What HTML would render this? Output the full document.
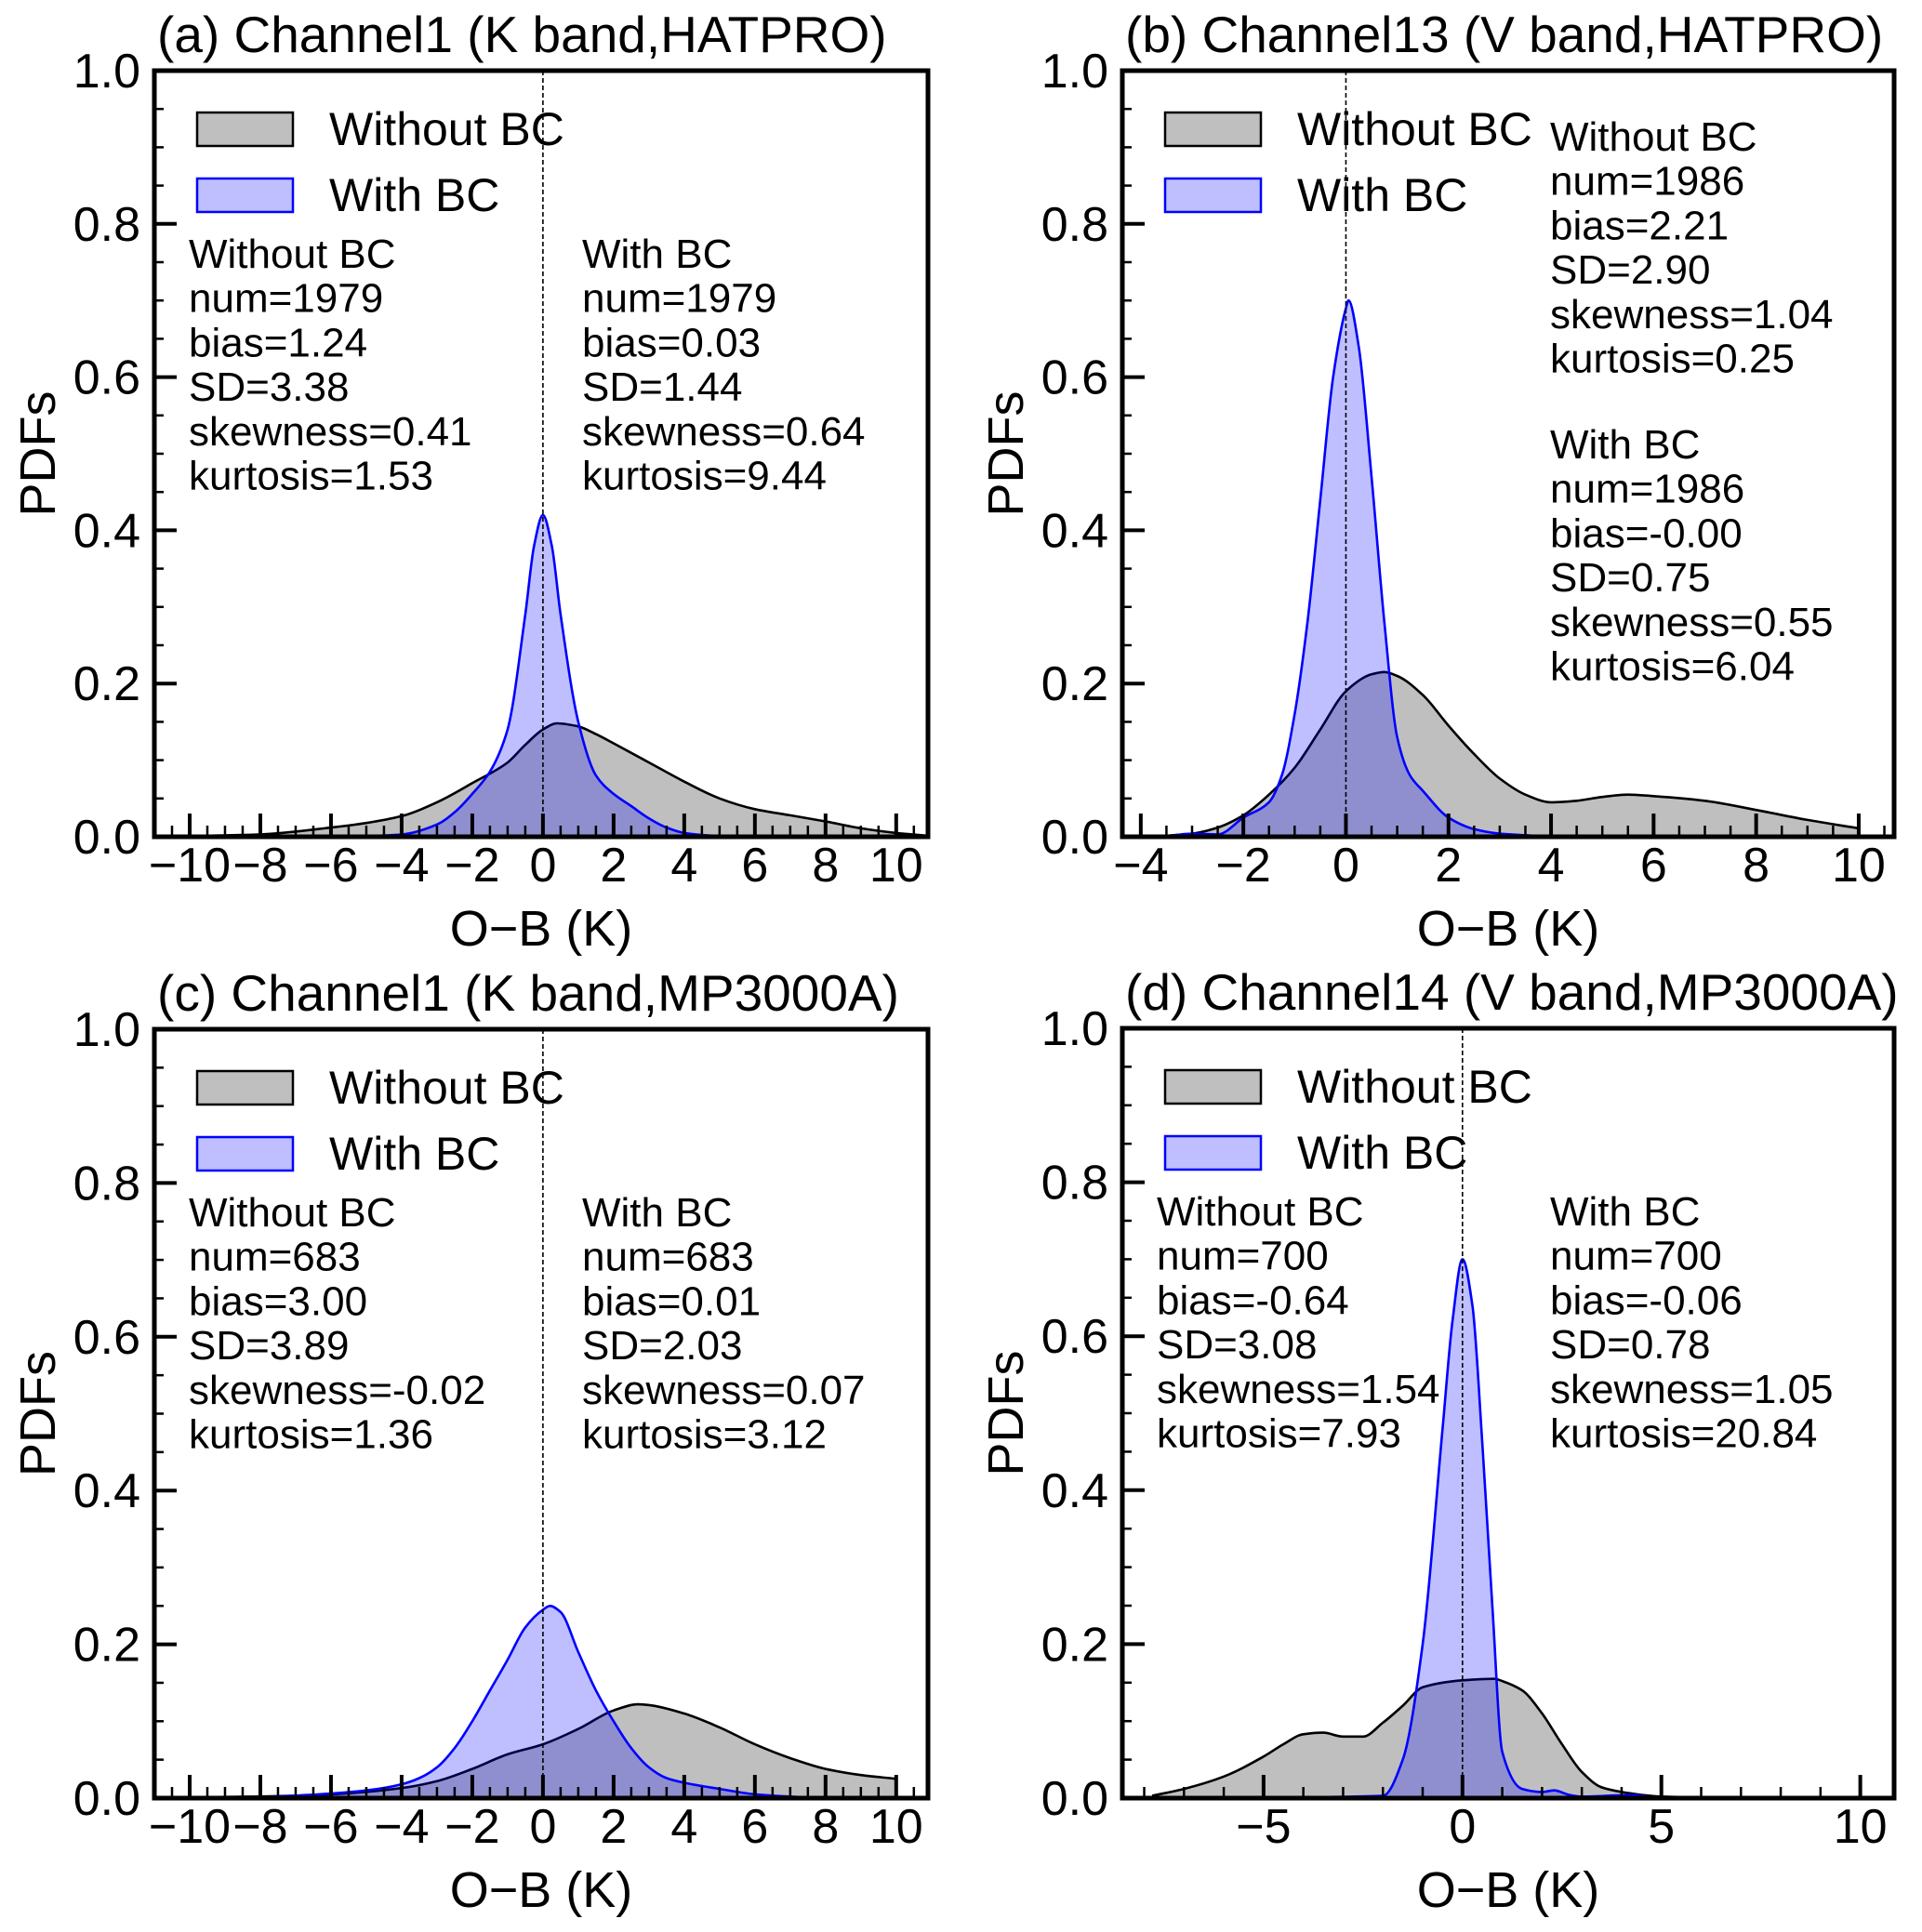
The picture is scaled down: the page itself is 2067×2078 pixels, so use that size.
<!DOCTYPE html>
<html><head><meta charset="utf-8">
<style>
html,body{margin:0;padding:0;background:#fff;}
svg{display:block;font-family:"Liberation Sans",Arial,sans-serif;}
</style></head>
<body>
<svg id="fig" width="2067" height="2078" viewBox="0 0 2067 2078" xmlns="http://www.w3.org/2000/svg"></svg>
<script>
// ---- Panel (a) data ----
const aTitle = "(a) Channel1 (K band,HATPRO)";
const aGrayX = [-11,-10,-8,-6,-5,-4,-3,-2,-1,-0.5,0,0.4,1,1.5,2,3,4,5,6,7,8,9,10,11];
const aGrayY = [0,0.001,0.003,0.012,0.018,0.027,0.045,0.07,0.097,0.12,0.14,0.148,0.144,0.134,0.122,0.097,0.072,0.05,0.036,0.028,0.02,0.011,0.005,0.001];
const aBlueX = [-6,-5,-4,-3,-2.5,-2,-1.5,-1,-0.5,-0.25,0,0.25,0.5,1,1.5,2,2.5,3,3.5,4,5,6];
const aBlueY = [0,0.001,0.003,0.016,0.032,0.056,0.085,0.14,0.29,0.38,0.42,0.38,0.29,0.15,0.08,0.056,0.04,0.024,0.012,0.005,0.001,0];
const aStatsL = ["Without BC","num=1979","bias=1.24","SD=3.38","skewness=0.41","kurtosis=1.53"];
const aStatsR = ["With BC","num=1979","bias=0.03","SD=1.44","skewness=0.64","kurtosis=9.44"];
const aXTicks = [-10,-8,-6,-4,-2,0,2,4,6,8,10];
const aXTickLabels = ["−10","−8","−6","−4","−2","0","2","4","6","8","10"];

// ---- Panel (b) data ----
const bTitle = "(b) Channel13 (V band,HATPRO)";
const bGrayX = [-3.6,-3,-2.5,-2,-1.5,-1,-0.5,0,0.5,0.75,1,1.5,2,2.5,3,3.5,4,4.5,5,5.5,6,7,8,9,10];
const bGrayY = [0.001,0.004,0.012,0.028,0.055,0.09,0.14,0.19,0.212,0.215,0.21,0.185,0.145,0.108,0.076,0.055,0.045,0.047,0.052,0.055,0.053,0.047,0.035,0.022,0.011];
const bBlueX = [-3.5,-3,-2.5,-2,-1.5,-1.25,-1,-0.75,-0.5,-0.25,0,0.05,0.25,0.5,0.75,1,1.25,1.5,2,2.5,3,3.5,4];
const bBlueY = [0.001,0.004,0.003,0.025,0.045,0.08,0.16,0.28,0.44,0.6,0.69,0.7,0.64,0.47,0.28,0.13,0.08,0.06,0.025,0.01,0.004,0.002,0];
const bStatsL = ["Without BC","num=1986","bias=2.21","SD=2.90","skewness=1.04","kurtosis=0.25"];
const bStatsR = ["With BC","num=1986","bias=-0.00","SD=0.75","skewness=0.55","kurtosis=6.04"];
const bXTicks = [-4,-2,0,2,4,6,8,10];
const bXTickLabels = ["−4","−2","0","2","4","6","8","10"];

// ---- Panel (c) data ----
const cTitle = "(c) Channel1 (K band,MP3000A)";
const cGrayX = [-10,-8,-6,-4,-3,-2,-1,0,1,2,2.7,3,4,5,6,7,8,9,10];
const cGrayY = [0.001,0.002,0.005,0.013,0.022,0.038,0.057,0.07,0.09,0.114,0.122,0.121,0.11,0.092,0.07,0.052,0.038,0.03,0.025];
const cBlueX = [-8,-6,-5,-4,-3.5,-3,-2.5,-2,-1.5,-1,-0.5,0,0.2,0.5,1,1.5,2,2.5,3,3.5,4,5,6,7,8];
const cBlueY = [0.001,0.006,0.01,0.018,0.026,0.04,0.065,0.1,0.14,0.18,0.222,0.245,0.25,0.242,0.19,0.14,0.1,0.065,0.04,0.026,0.02,0.012,0.005,0.002,0];
const cStatsL = ["Without BC","num=683","bias=3.00","SD=3.89","skewness=-0.02","kurtosis=1.36"];
const cStatsR = ["With BC","num=683","bias=0.01","SD=2.03","skewness=0.07","kurtosis=3.12"];
const cXTicks = aXTicks;
const cXTickLabels = aXTickLabels;

// ---- Panel (d) data ----
const dTitle = "(d) Channel14 (V band,MP3000A)";
const dGrayX = [-7.8,-7,-6,-5,-4.5,-4,-3.5,-3,-2.5,-2,-1.5,-1,0,0.8,1,1.5,2,2.5,3,3.5,4,5,6,8,10];
const dGrayY = [0.003,0.012,0.028,0.054,0.07,0.083,0.085,0.08,0.08,0.098,0.12,0.144,0.153,0.155,0.152,0.14,0.11,0.07,0.034,0.014,0.008,0.002,0.001,0,0];
const dBlueX = [-7,-2,-1.5,-1,-0.5,-0.25,0,0.25,0.5,0.75,1,1.5,2,2.3,2.7,3,4.2,5,6];
const dBlueY = [0,0.003,0.05,0.2,0.48,0.62,0.7,0.64,0.46,0.25,0.06,0.012,0.008,0.01,0.004,0.002,0.004,0,0];
const dStatsL = ["Without BC","num=700","bias=-0.64","SD=3.08","skewness=1.54","kurtosis=7.93"];
const dStatsR = ["With BC","num=700","bias=-0.06","SD=0.78","skewness=1.05","kurtosis=20.84"];
const dXTicks = [-5,0,5,10];
const dXTickLabels = ["−5","0","5","10"];

const yTicks = [0,0.2,0.4,0.6,0.8,1.0];
const yTickLabels = ["0.0","0.2","0.4","0.6","0.8","1.0"];

const NS = "http://www.w3.org/2000/svg";
const fig = document.getElementById('fig');
function mk(tag, attrs, parent){
  const e = document.createElementNS(NS, tag);
  for (const k in attrs) e.setAttribute(k, attrs[k]);
  (parent||fig).appendChild(e);
  return e;
}
// monotone cubic (Fritsch-Carlson) path through pixel points
function monotone(pts){
  const n = pts.length;
  const dx=[], dy=[], m=[];
  for (let i=0;i<n-1;i++){ dx.push(pts[i+1][0]-pts[i][0]); dy.push(pts[i+1][1]-pts[i][1]); m.push(dy[i]/dx[i]); }
  const t = new Array(n);
  t[0]=m[0]; t[n-1]=m[n-2];
  for (let i=1;i<n-1;i++){
    if (m[i-1]*m[i] <= 0) t[i]=0;
    else { const w1=2*dx[i]+dx[i-1], w2=dx[i]+2*dx[i-1]; t[i]=(w1+w2)/(w1/m[i-1]+w2/m[i]); }
  }
  let d = "M"+pts[0][0].toFixed(1)+","+pts[0][1].toFixed(1);
  for (let i=0;i<n-1;i++){
    const h=dx[i];
    d += " C"+(pts[i][0]+h/3).toFixed(1)+","+(pts[i][1]+t[i]*h/3).toFixed(1)+" "+(pts[i+1][0]-h/3).toFixed(1)+","+(pts[i+1][1]-t[i+1]*h/3).toFixed(1)+" "+pts[i+1][0].toFixed(1)+","+pts[i+1][1].toFixed(1);
  }
  return d;
}

function panel(cfg){
  const {id,L,R,T,B,xmin,xmax,grayX,grayY,blueX,blueY,title,statsL,statsR,xTicks,xTickLabels,minorStep,statsMode} = cfg;
  const g = mk('g',{});
  
  
  const sx = v => L + (v - xmin) / (xmax - xmin) * (R - L);
  const sy = v => B - v * (B - T);
  const clipId = 'clip-'+id;
  const cp = mk('clipPath',{id:clipId},g);
  mk('rect',{x:L,y:T,width:R-L,height:B-T},cp);
  const plot = mk('g',{'clip-path':'url(#'+clipId+')'},g);

  function area(xs, ys, fill, stroke, name){
    const pts = xs.map((x,i)=>[sx(x), sy(ys[i])]);
    const line = monotone(pts);
    const a = mk('path',{d: line+" L"+pts[pts.length-1][0].toFixed(1)+","+B+" L"+pts[0][0].toFixed(1)+","+B+" Z", fill:fill, stroke:'none'}, plot);
    
    
    const l = mk('path',{d: line, fill:'none', stroke:stroke, 'stroke-width':2.6}, plot);
    
    
  }
  area(grayX, grayY, 'rgba(128,128,128,0.5)', '#000', 'without-bc-pdf');
  area(blueX, blueY, 'rgba(0,0,255,0.25)', '#0000ff', 'with-bc-pdf');

  const zl = mk('line',{x1:sx(0),x2:sx(0),y1:T,y2:B,stroke:'#000','stroke-width':1.6,'stroke-dasharray':'5,3'},g);
  
  

  const tk = mk('g',{stroke:'#000'},g);
  for (let v=Math.ceil(xmin/minorStep)*minorStep; v<=xmax+1e-9; v+=minorStep){
    const isMajor = xTicks.some(t=>Math.abs(t-v)<1e-6);
    mk('line',{x1:sx(v),x2:sx(v),y1:B,y2:B-(isMajor?25:12),'stroke-width':isMajor?4:2.5},tk);
  }
  for (let v=0; v<=1.0001; v+=0.05){
    const isMajor = Math.abs(v*5-Math.round(v*5))<1e-6;
    mk('line',{x1:L,x2:L+(isMajor?24:10),y1:sy(v),y2:sy(v),'stroke-width':isMajor?4:2.5},tk);
  }
  xTicks.forEach((t,i)=>{
    const e = mk('text',{x:sx(t),y:B+48,'font-size':52,'text-anchor':'middle'},g);
    e.textContent = xTickLabels[i];
    
    
  });
  yTicks.forEach((t,i)=>{
    const e = mk('text',{x:L-15,y:sy(t)+18,'font-size':52,'text-anchor':'end'},g);
    e.textContent = yTickLabels[i];
    
    
  });
  const fr = mk('rect',{x:L,y:T,width:R-L,height:B-T,fill:'none',stroke:'#000','stroke-width':5},g);
  
  

  const xl = mk('text',{x:(L+R)/2,y:B+117,'font-size':54,'text-anchor':'middle'},g);
  xl.textContent = 'O−B (K)';
  
  
  const yl = mk('text',{x:0,y:0,'font-size':54,'text-anchor':'middle',transform:'translate('+(L-107)+','+((T+B)/2)+') rotate(-90)'},g);
  yl.textContent = 'PDFs';
  
  
  const tt = mk('text',{x:L+3,y:T-20,'font-size':55},g);
  tt.textContent = title;
  
  

  const lg = mk('g',{},g);
  
  
  const p1 = mk('rect',{x:L+46,y:T+45,width:103,height:36,fill:'#bfbfbf',stroke:'#000','stroke-width':2.5},lg);
  
  
  const t1 = mk('text',{x:L+188,y:T+80,'font-size':50},lg);
  t1.textContent = 'Without BC';
  
  
  const p2 = mk('rect',{x:L+46,y:T+116,width:103,height:36,fill:'#bfbfff',stroke:'#0000ff','stroke-width':2.5},lg);
  
  
  const t2 = mk('text',{x:L+188,y:T+151,'font-size':50},lg);
  t2.textContent = 'With BC';
  
  

  function stats(lines, x, y0, name){
    const sg = mk('g',{},g);
    
    
    lines.forEach((s,i)=>{
      const e = mk('text',{x:x,y:y0+i*47.7,'font-size':44},sg);
      e.textContent = s;
    });
  }
  if (statsMode === 'stack'){
    stats(statsL, L+460, T+86, 'stats-without-bc');
    stats(statsR, L+460, T+417, 'stats-with-bc');
  } else {
    stats(statsL, L+37, T+212, 'stats-without-bc');
    stats(statsR, L+460, T+212, 'stats-with-bc');
  }
}

panel({id:'a',L:166,R:998,T:76,B:900,xmin:-11,xmax:10.9,grayX:aGrayX,grayY:aGrayY,blueX:aBlueX,blueY:aBlueY,title:aTitle,statsL:aStatsL,statsR:aStatsR,xTicks:aXTicks,xTickLabels:aXTickLabels,minorStep:0.5,statsMode:'side'});
panel({id:'b',L:1207,R:2037,T:76,B:900,xmin:-4.36,xmax:10.69,grayX:bGrayX,grayY:bGrayY,blueX:bBlueX,blueY:bBlueY,title:bTitle,statsL:bStatsL,statsR:bStatsR,xTicks:bXTicks,xTickLabels:bXTickLabels,minorStep:0.5,statsMode:'stack'});
panel({id:'c',L:166,R:998,T:1107,B:1934,xmin:-11,xmax:10.9,grayX:cGrayX,grayY:cGrayY,blueX:cBlueX,blueY:cBlueY,title:cTitle,statsL:cStatsL,statsR:cStatsR,xTicks:cXTicks,xTickLabels:cXTickLabels,minorStep:0.5,statsMode:'side'});
panel({id:'d',L:1207,R:2037,T:1106,B:1934,xmin:-8.55,xmax:10.85,grayX:dGrayX,grayY:dGrayY,blueX:dBlueX,blueY:dBlueY,title:dTitle,statsL:dStatsL,statsR:dStatsR,xTicks:dXTicks,xTickLabels:dXTickLabels,minorStep:1,statsMode:'side'});
</script>
</body></html>
